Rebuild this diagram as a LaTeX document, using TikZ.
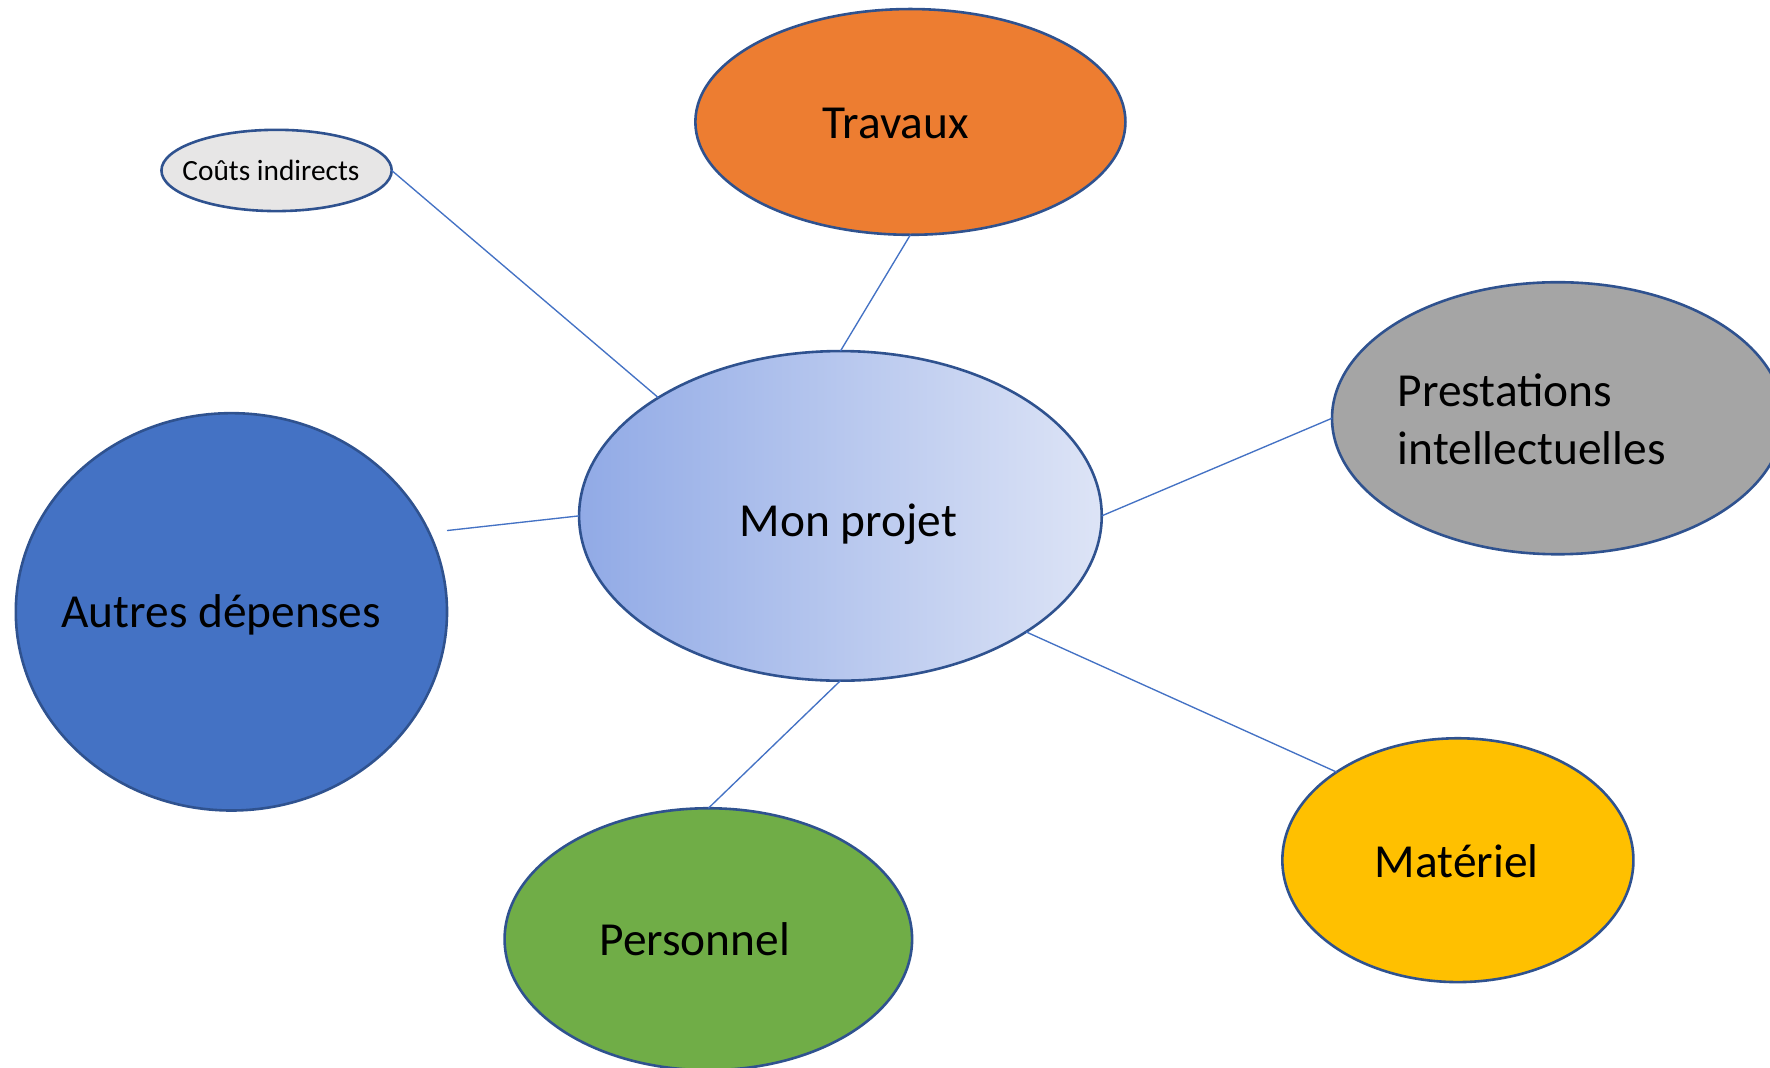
\documentclass[tikz,border=0pt]{standalone}
\usepackage{fontspec}
\setmainfont{Carlito}
\usetikzlibrary{shapes.geometric}
\definecolor{edgeblue}{HTML}{2F528F}
\definecolor{linkblue}{HTML}{4472C4}
\definecolor{cOrange}{HTML}{ED7D31}
\definecolor{cGrayL}{HTML}{E7E6E6}
\definecolor{cGray}{HTML}{A5A5A5}
\definecolor{cBlue}{HTML}{4472C4}
\definecolor{cGreen}{HTML}{70AD47}
\definecolor{cGold}{HTML}{FFC000}
\definecolor{gradL}{RGB}{145,170,230}
\definecolor{gradR}{RGB}{221,228,246}
\tikzset{
  bubble/.style={ellipse, draw=edgeblue, line width=2.3pt, inner sep=0pt, outer sep=0pt},
  link/.style={draw=linkblue, line width=1.2pt},
  bigtxt/.style={font=\fontsize{42}{51}\selectfont},
  smalltxt/.style={font=\fontsize{26}{31}\selectfont},
}
\begin{document}
\begin{tikzpicture}[x=1pt,y=-1pt]
\useasboundingbox (0,0) rectangle (1568,946);
\clip (0,0) rectangle (1568,946);
% nodes
\node[bubble, fill=cOrange, minimum width=381pt, minimum height=200pt,
  label={[bigtxt, xshift=-13pt, yshift=-1pt]center:Travaux}] (trav) at (806.5,108) {};
\node[bubble, fill=cGrayL, minimum width=204pt, minimum height=72pt,
  label={[smalltxt, xshift=-5pt]center:Coûts indirects}] (couts) at (245,151) {};
\node[bubble, left color=gradL, right color=gradR, minimum width=463pt, minimum height=292pt,
  label={[bigtxt, xshift=7pt, yshift=-7pt]center:Mon projet}] (mon) at (744.5,457) {};
\node[bubble, fill=cGray, minimum width=400pt, minimum height=241pt,
  label={[bigtxt, align=left, xshift=-23pt, yshift=-1pt]center:Prestations\\intellectuelles}] (prest) at (1380,370.5) {};
\node[bubble, fill=cBlue, minimum width=382pt, minimum height=352pt,
  label={[bigtxt, xshift=-9pt, yshift=-3pt]center:Autres dépenses}] (autres) at (205,542) {};
\node[bubble, fill=cGreen, minimum width=361pt, minimum height=232pt,
  label={[bigtxt, xshift=-12pt]center:Personnel}] (perso) at (627.5,832) {};
\node[bubble, fill=cGold, minimum width=311pt, minimum height=216pt,
  label={[bigtxt, xshift=-1pt, yshift=-1pt]center:Matériel}] (mat) at (1291.5,762) {};
\coordinate (autresend) at (396,470);
% connectors
\draw[link] (couts.east) -- (mon.147.4);
\draw[link] (trav.south) -- (mon.north);
\draw[link] (autresend) -- (mon.west);
\draw[link] (prest.west) -- (mon.east);
\draw[link] (mon.-32.3) -- (mat.144.9);
\draw[link] (mon.south) -- (perso.north);
\end{tikzpicture}
\end{document}
